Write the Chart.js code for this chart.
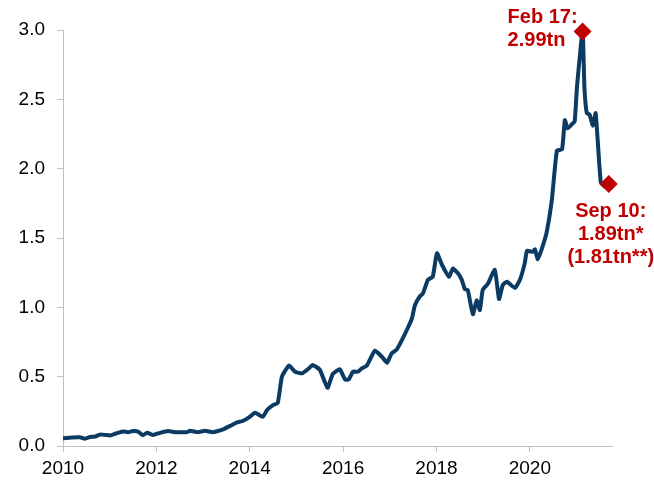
<!DOCTYPE html>
<html>
<head>
<meta charset="utf-8">
<script src="https://cdn.jsdelivr.net/npm/chart.js@4"></script>
<style>
html,body{margin:0;padding:0;background:#fff;}
#c{display:block;}
</style>
</head>
<body>
<canvas id="c" width="654" height="482"></canvas>
<script>
// Decimal-year positions of the readings
const years = [
2010.00,2010.06,2010.19,2010.36,2010.47,2010.58,2010.69,2010.79,2010.90,2011.01,
2011.13,2011.28,2011.39,2011.50,2011.61,2011.71,2011.80,2011.93,2012.08,2012.25,
2012.40,2012.55,2012.66,2012.72,2012.89,2013.04,2013.21,2013.32,2013.43,2013.58,
2013.73,2013.85,2014.00,2014.11,2014.28,2014.37,2014.50,2014.60,2014.69,2014.84,
2014.97,2015.12,2015.25,2015.35,2015.50,2015.61,2015.67,2015.78,2015.93,2016.04,
2016.12,2016.21,2016.32,2016.40,2016.51,2016.68,2016.83,2016.94,2017.04,2017.15,
2017.26,2017.37,2017.47,2017.54,2017.64,2017.71,2017.82,2017.92,2018.01,2018.12,
2018.27,2018.35,2018.46,2018.54,2018.61,2018.67,2018.78,2018.86,2018.93,2018.99,
2019.10,2019.25,2019.34,2019.42,2019.51,2019.68,2019.79,2019.89,2019.94,2020.06,
2020.11,2020.17,2020.26,2020.36,2020.47,2020.58,2020.69,2020.75,2020.81,2020.90,
2020.96,2021.01,2021.13,2021.17,2021.22,2021.28,2021.35,2021.41,2021.52,2021.61,
2021.69
];
// Values in trillions
const values = [
0.055,0.058,0.062,0.063,0.053,0.065,0.068,0.082,0.080,0.076,
0.090,0.105,0.100,0.108,0.104,0.077,0.096,0.080,0.095,0.108,
0.100,0.100,0.100,0.110,0.100,0.110,0.100,0.108,0.120,0.145,
0.170,0.180,0.210,0.240,0.210,0.260,0.295,0.310,0.500,0.580,
0.535,0.524,0.555,0.584,0.550,0.460,0.420,0.520,0.553,0.480,
0.480,0.536,0.536,0.560,0.580,0.687,0.644,0.600,0.668,0.697,
0.764,0.840,0.915,1.017,1.077,1.100,1.200,1.220,1.390,1.305,
1.220,1.280,1.245,1.200,1.130,1.125,0.950,1.050,0.980,1.125,
1.170,1.270,1.060,1.160,1.185,1.140,1.200,1.317,1.408,1.400,
1.418,1.346,1.425,1.540,1.770,2.130,2.140,2.350,2.290,2.320,
2.340,2.590,2.990,2.580,2.400,2.390,2.310,2.400,1.900,1.870,
1.890
];
// Highlighted points
const markYears = [2021.13, 2021.69];
const markValues = [2.99, 1.89];
const markLabels = [["Feb 17:", "2.99tn"], ["Sep 10:", "1.89tn*", "(1.81tn**)"]];
// Tick labels
const xTicks = [2010, 2012, 2014, 2016, 2018, 2020];
const yTicks = [0, 0.5, 1.0, 1.5, 2.0, 2.5, 3.0];

const FONT = "'Liberation Sans', Arial, sans-serif";
const RED = "#c00000";

const labelPlugin = {
  id: "markLabels",
  afterDatasetsDraw(chart) {
    const ctx = chart.ctx;
    const xs = chart.scales.x, ys = chart.scales.y;
    ctx.save();
    ctx.fillStyle = RED;
    ctx.font = "bold 20px " + FONT;
    ctx.textBaseline = "middle";
    let px = xs.getPixelForValue(markYears[0]);
    let py = ys.getPixelForValue(markValues[0]);
    ctx.textAlign = "left";
    ctx.fillText(markLabels[0][0], px - 75, py - 14);
    ctx.fillText(markLabels[0][1], px - 75, py + 9);
    px = xs.getPixelForValue(markYears[1]);
    py = ys.getPixelForValue(markValues[1]);
    ctx.textAlign = "center";
    markLabels[1].forEach((t, i) => ctx.fillText(t, px + 2, py + 28 + i * 23));
    ctx.restore();
  }
};

new Chart(document.getElementById("c"), {
  type: "line",
  data: {
    datasets: [
      {
        data: years.map((x, i) => ({x: x, y: values[i]})),
        borderColor: "#0b3a63",
        borderWidth: 4,
        pointRadius: 0,
        tension: 0.15,
        fill: false,
        borderJoinStyle: "round",
        borderCapStyle: "round",
        order: 2
      },
      {
        data: markYears.map((x, i) => ({x: x, y: markValues[i]})),
        showLine: false,
        clip: false,
        pointStyle: "rectRot",
        pointRadius: 9,
        backgroundColor: RED,
        borderColor: RED,
        borderWidth: 0,
        order: 1
      }
    ]
  },
  options: {
    responsive: false,
    animation: false,
    events: [],
    layout: {padding: {top: 30, right: 42, left: 0, bottom: 0}},
    plugins: {legend: {display: false}, tooltip: {enabled: false}},
    scales: {
      x: {
        type: "linear",
        min: 2010,
        max: 2021.76,
        afterBuildTicks: (a) => { a.ticks = xTicks.map(v => ({value: v})); },
        afterFit: (a) => { a.height = 36; },
        grid: {drawOnChartArea: false, drawTicks: true, tickLength: 6, color: "#c0c0c0", lineWidth: 1},
        border: {color: "#c0c0c0", width: 1},
        ticks: {
          color: "#000",
          font: {family: FONT, size: 19},
          padding: 5,
          maxRotation: 0,
          callback: (v) => String(v)
        }
      },
      y: {
        type: "linear",
        min: 0,
        max: 3.0,
        afterBuildTicks: (a) => { a.ticks = yTicks.map(v => ({value: v})); },
        afterFit: (a) => { a.width = 63; },
        grid: {drawOnChartArea: false, drawTicks: true, tickLength: 6, color: "#c0c0c0", lineWidth: 1},
        border: {color: "#c0c0c0", width: 1},
        ticks: {
          color: "#000",
          font: {family: FONT, size: 19},
          padding: 12,
          callback: (v) => v.toFixed(1)
        }
      }
    }
  },
  plugins: [labelPlugin]
});
</script>
</body>
</html>
